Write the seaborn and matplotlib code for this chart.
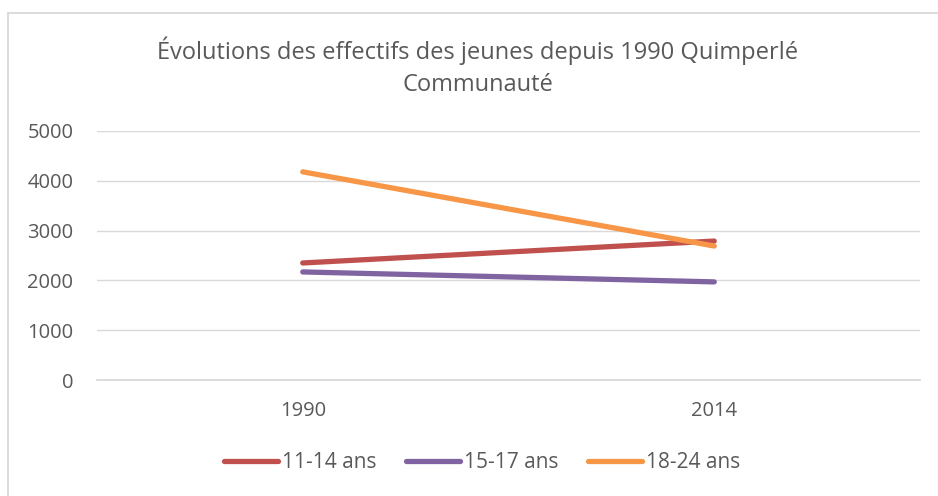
import matplotlib
matplotlib.use("Agg")
import matplotlib.pyplot as plt
import pandas as pd
import seaborn as sns

years = ["1990", "2014"]
groups = ["11-14 ans", "15-17 ans", "18-24 ans"]
values_11_14 = [2350, 2790]
values_15_17 = [2170, 1970]
values_18_24 = [4180, 2690]
colors = ["#C0504D", "#8064A2", "#F79646"]
yticks = [0, 1000, 2000, 3000, 4000, 5000]

df = pd.DataFrame({
    "year": years * 3,
    "group": [g for g in groups for _ in years],
    "value": values_11_14 + values_15_17 + values_18_24,
})

sns.set_theme(style="white")
plt.rcParams["font.family"] = ["Open Sans", "DejaVu Sans"]
TEXT = "#595959"
GRID = "#D9D9D9"

fig = plt.figure(figsize=(9.38, 4.96), dpi=100)
ax = fig.add_axes([97 / 938, 1 - 380 / 496, (920 - 97) / 938, (380 - 131) / 496])

sns.lineplot(data=df, x="year", y="value", hue="group", palette=colors,
             linewidth=3.8, ax=ax, sort=False, legend=False,
             solid_capstyle="round")

ax.set_xlim(-0.5, 1.5)
ax.set_ylim(0, 5000)
ax.set_yticks(yticks)
ax.set_yticklabels([str(v) for v in yticks])
ax.grid(axis="y", color=GRID, linewidth=1)
ax.set_axisbelow(True)
for side in ["left", "right", "top"]:
    ax.spines[side].set_visible(False)
ax.spines["bottom"].set_color(GRID)
ax.tick_params(axis="both", length=0, labelsize=14.5, colors=TEXT)
ax.tick_params(axis="y", pad=17)
ax.tick_params(axis="x", pad=15)
ax.set_xlabel("")
ax.set_ylabel("")

fig.text(478 / 938, 1 - 67 / 496,
         "Évolutions des effectifs des jeunes depuis 1990 Quimperlé\nCommunauté",
         ha="center", va="center", fontsize=17, color=TEXT, linespacing=1.45)

handles = [plt.Line2D([0], [0], color=c, linewidth=3.8, solid_capstyle="round")
           for c in colors]
fig.legend(handles, groups, loc="center", bbox_to_anchor=(482 / 938, 1 - 463 / 496),
           ncol=3, frameon=False, fontsize=15, labelcolor=TEXT,
           handlelength=2.6, handletextpad=0.15, columnspacing=1.45)

# chart frame: only top and left edges show in the crop
x0, y0 = 7.5 / 938, 1 - 12.5 / 496
fig.add_artist(plt.Line2D([x0, 1], [y0, y0], transform=fig.transFigure,
                          color=GRID, linewidth=1.3))
fig.add_artist(plt.Line2D([x0, x0], [0, y0], transform=fig.transFigure,
                          color=GRID, linewidth=1.3))

fig.savefig("out.png", dpi=100)
